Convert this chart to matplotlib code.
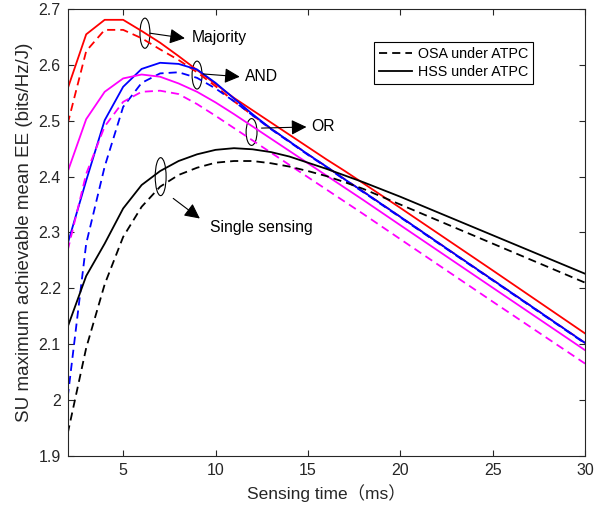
import matplotlib
matplotlib.use("Agg")
import matplotlib.pyplot as plt
from matplotlib.patches import Ellipse

plt.rcParams['font.family'] = ['Liberation Sans', 'Noto Sans CJK SC', 'DejaVu Sans']

# ---- data ----
sensing_time = [2, 3, 4, 5, 6, 7, 8, 9, 10, 11, 12, 13, 14, 15, 16, 17, 18, 20, 25, 30]

majority_hss = [2.558, 2.655, 2.681, 2.681, 2.661, 2.640, 2.616, 2.591, 2.566, 2.541,
                2.519, 2.497, 2.475, 2.453, 2.431, 2.410, 2.388, 2.344, 2.232, 2.119]
majority_osa = [2.495, 2.625, 2.663, 2.663, 2.648, 2.628, 2.609, 2.587, 2.562, 2.535,
                2.510, 2.486, 2.463, 2.440, 2.418, 2.395, 2.373, 2.328, 2.215, 2.102]
and_hss = [2.280, 2.393, 2.501, 2.561, 2.593, 2.604, 2.602, 2.592, 2.568, 2.540,
           2.512, 2.486, 2.463, 2.440, 2.418, 2.395, 2.373, 2.328, 2.215, 2.102]
and_osa = [2.005, 2.280, 2.418, 2.525, 2.568, 2.585, 2.587, 2.577, 2.558, 2.535,
           2.510, 2.485, 2.462, 2.439, 2.417, 2.394, 2.372, 2.327, 2.214, 2.101]
or_hss = [2.409, 2.503, 2.552, 2.576, 2.583, 2.579, 2.567, 2.552, 2.533, 2.512,
          2.490, 2.468, 2.446, 2.424, 2.402, 2.380, 2.358, 2.313, 2.201, 2.089]
or_osa = [2.268, 2.405, 2.490, 2.534, 2.552, 2.554, 2.548, 2.530, 2.509, 2.487,
          2.465, 2.443, 2.421, 2.399, 2.377, 2.355, 2.333, 2.288, 2.176, 2.065]
single_hss = [2.131, 2.222, 2.280, 2.343, 2.385, 2.410, 2.428, 2.440, 2.448, 2.451,
              2.449, 2.444, 2.436, 2.425, 2.414, 2.402, 2.390, 2.364, 2.295, 2.226]
single_osa = [1.940, 2.093, 2.207, 2.292, 2.346, 2.382, 2.403, 2.416, 2.425, 2.428,
              2.428, 2.424, 2.418, 2.410, 2.401, 2.390, 2.378, 2.350, 2.280, 2.210]

x_ticks = [5, 10, 15, 20, 25, 30]
y_ticks = [1.9, 2.0, 2.1, 2.2, 2.3, 2.4, 2.5, 2.6, 2.7]
y_ticklabels = ['1.9', '2', '2.1', '2.2', '2.3', '2.4', '2.5', '2.6', '2.7']

# ---- figure ----
fig = plt.figure(figsize=(6.03, 5.12), dpi=100)
ax = fig.add_axes([0.1123, 0.110, 0.858, 0.872])

lw = 1.3
dash = (4.5, 2.8)
series = [
    (majority_osa, 'red', '--'), (majority_hss, 'red', '-'),
    (and_osa, 'blue', '--'), (and_hss, 'blue', '-'),
    (or_osa, 'magenta', '--'), (or_hss, 'magenta', '-'),
    (single_osa, 'black', '--'), (single_hss, 'black', '-'),
]
for vals, c, ls in series:
    line, = ax.plot(sensing_time, vals, color=c, linestyle=ls, lw=lw)
    if ls == '--':
        line.set_dashes(dash)

# legend handles
h_osa, = ax.plot([], [], color='black', lw=lw, linestyle='--', dashes=dash)
h_hss, = ax.plot([], [], color='black', lw=lw, linestyle='-')
leg = ax.legend([h_osa, h_hss], ['OSA under ATPC', 'HSS under ATPC'],
                loc='upper left', bbox_to_anchor=(0.592, 0.927), fontsize=10.3,
                frameon=True, fancybox=False, framealpha=1, edgecolor='black',
                handlelength=2.3, handletextpad=0.4, borderpad=0.35,
                labelspacing=0.3, borderaxespad=0)
leg.get_frame().set_linewidth(0.8)

ax.set_xlim(2, 30)
ax.set_ylim(1.9, 2.7)
ax.set_xticks(x_ticks)
ax.set_yticks(y_ticks)
ax.set_yticklabels(y_ticklabels)
ax.tick_params(direction='in', top=True, right=True, labelsize=11.5,
               length=4, width=0.8, colors='#262626', pad=5)
for sp in ax.spines.values():
    sp.set_color('#262626')
    sp.set_linewidth(0.8)

ax.set_xlabel('Sensing time（ms）', fontsize=12.5, color='#262626', labelpad=5)
ax.set_ylabel('SU maximum achievable mean EE (bits/Hz/J)', fontsize=13.5,
              color='#262626', labelpad=4)

# ---- annotations: ellipses + arrows ----
ann = [
    # (ellipse center x, y, width, height, arrow start, arrow end, text, text pos)
    (6.18, 2.657, 0.54, 0.054, (6.45, 2.657), (8.34, 2.648), 'Majority', (8.70, 2.650)),
    (9.00, 2.582, 0.54, 0.050, (9.33, 2.584), (11.31, 2.579), 'AND', (11.58, 2.580)),
    (11.95, 2.480, 0.59, 0.048, (12.49, 2.487), (14.92, 2.489), 'OR', (15.19, 2.489)),
    (7.03, 2.400, 0.59, 0.068, (7.71, 2.361), (9.15, 2.325), 'Single sensing', (9.69, 2.309)),
]
for cx, cy, w, h, a0, a1, txt, tp in ann:
    ax.add_patch(Ellipse((cx, cy), w, h, fill=False, edgecolor='black', lw=0.8))
    ax.annotate('', xy=a1, xytext=a0,
                arrowprops=dict(arrowstyle='-|>', mutation_scale=23, lw=0.8,
                                color='black', shrinkA=0, shrinkB=0))
    ax.text(tp[0], tp[1], txt, fontsize=11.3, ha='left', va='center', color='black')

fig.savefig('out.png', dpi=100)
